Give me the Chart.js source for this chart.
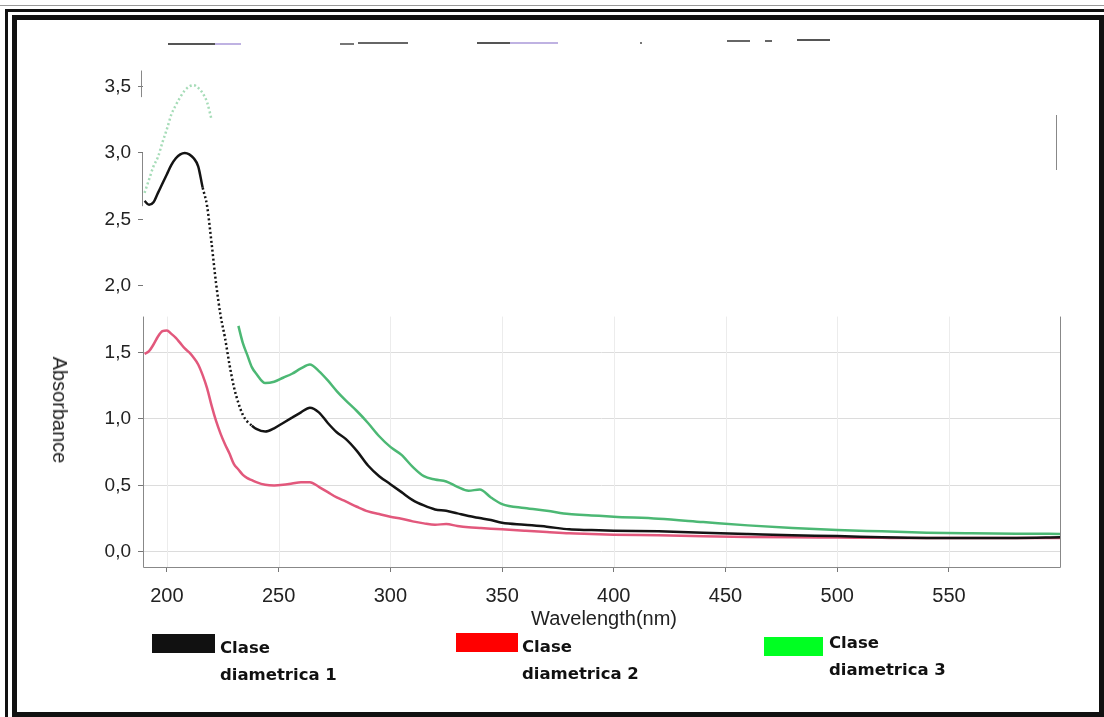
<!DOCTYPE html>
<html>
<head>
<meta charset="utf-8">
<script src="https://cdn.jsdelivr.net/npm/chart.js@4/dist/chart.umd.min.js"></script>
<style>
  html, body { margin: 0; padding: 0; background: #fff; }
  body { width: 1104px; height: 717px; position: relative; overflow: hidden; font-family: "Liberation Sans", Arial, sans-serif; }
  #wrap { position: absolute; left: 0; top: 0; width: 1104px; height: 717px; }
  .frameOuter { position: absolute; left: 5px; top: 9px; width: 1200px; height: 800px; border-left: 3px solid #111; border-top: 3px solid #111; }
  .frameInner { position: absolute; left: 12px; top: 15px; right: 0; bottom: 0; border: 5px solid #111; }
  .scanTop { position: absolute; left: 0; top: 5px; width: 1104px; height: 1px; background: #999; }
  .junk { position: absolute; height: 2px; }
  .ytitle { position: absolute; left: 60px; top: 410px; font-size: 20px; line-height: 20px; color: #222; white-space: nowrap; transform: translate(-50%, -50%) rotate(90deg); }
  .xtitle { position: absolute; left: 604px; top: 608px; font-size: 20px; line-height: 20px; color: #222; white-space: nowrap; transform: translateX(-50%); }
  .lgBox { position: absolute; height: 19px; }
  .lgText { position: absolute; font-family: "DejaVu Sans", sans-serif; font-weight: bold; font-size: 16.5px; line-height: 27px; color: #111; }
</style>
</head>
<body>
<div class="scanTop"></div>
<div class="frameOuter"></div>
<div class="frameInner"></div>

<!-- scan leftovers at the top of the page -->
<div class="junk" style="left:168px;top:43px;width:47px;background:#555"></div>
<div class="junk" style="left:215px;top:43px;width:26px;background:#bfb2e2"></div>
<div class="junk" style="left:340px;top:43px;width:14px;background:#777"></div>
<div class="junk" style="left:358px;top:42px;width:50px;background:#666"></div>
<div class="junk" style="left:477px;top:42px;width:33px;background:#555"></div>
<div class="junk" style="left:510px;top:42px;width:48px;background:#bfb2e2"></div>
<div class="junk" style="left:640px;top:42px;width:2px;background:#777"></div>
<div class="junk" style="left:727px;top:40px;width:23px;background:#666"></div>
<div class="junk" style="left:765px;top:40px;width:7px;background:#666"></div>
<div class="junk" style="left:797px;top:39px;width:33px;background:#555"></div>
<div style="position:absolute;left:1056px;top:115px;width:1px;height:55px;background:#888"></div>

<div id="wrap"><canvas id="myChart" width="1104" height="717"></canvas></div>

<div class="ytitle">Absorbance</div>
<div class="xtitle">Wavelength(nm)</div>

<div class="lgBox" style="left:152px;top:634px;width:63px;background:#111"></div>
<div class="lgText" style="left:220px;top:634px">Clase<br>diametrica 1</div>
<div class="lgBox" style="left:456px;top:633px;width:62px;background:#ff0000"></div>
<div class="lgText" style="left:522px;top:633px">Clase<br>diametrica 2</div>
<div class="lgBox" style="left:764px;top:637px;width:59px;background:#00ff22"></div>
<div class="lgText" style="left:829px;top:629px">Clase<br>diametrica 3</div>

<script>
const wavelengths = [190, 192, 194, 196, 198, 200, 202, 204, 206, 208, 210, 212, 214, 216, 218, 220,
  222, 224, 226, 228, 230, 232, 234, 236, 238, 240, 244, 248, 252, 256, 260, 264, 268, 272, 276, 280,
  285, 290, 295, 300, 305, 310, 315, 320, 325, 330, 335, 340, 345, 350, 360, 370, 380, 390, 400,
  420, 440, 460, 480, 500, 520, 540, 560, 580, 600];

const clase1 = [2.64, 2.61, 2.63, 2.70, 2.77, 2.84, 2.91, 2.96, 2.99, 3.00, 2.99, 2.96, 2.90, 2.74, 2.60, 2.32,
  2.02, 1.78, 1.61, 1.41, 1.24, 1.12, 1.03, 0.98, 0.95, 0.925, 0.905, 0.93, 0.97, 1.01, 1.05, 1.085, 1.05, 0.97, 0.90, 0.85,
  0.76, 0.65, 0.57, 0.51, 0.45, 0.39, 0.35, 0.32, 0.31, 0.29, 0.27, 0.255, 0.24, 0.22, 0.205, 0.19, 0.17, 0.165, 0.16,
  0.155, 0.145, 0.135, 0.125, 0.12, 0.11, 0.105, 0.105, 0.105, 0.11];

const clase2 = [1.49, 1.51, 1.56, 1.62, 1.66, 1.665, 1.64, 1.61, 1.57, 1.53, 1.50, 1.46, 1.41, 1.33, 1.23, 1.10,
  0.985, 0.89, 0.81, 0.74, 0.66, 0.62, 0.58, 0.555, 0.54, 0.525, 0.505, 0.50, 0.505, 0.515, 0.525, 0.525, 0.49, 0.45, 0.41, 0.38,
  0.34, 0.305, 0.285, 0.265, 0.25, 0.23, 0.215, 0.205, 0.21, 0.195, 0.185, 0.18, 0.175, 0.17, 0.16, 0.15, 0.14, 0.135, 0.13,
  0.125, 0.118, 0.113, 0.11, 0.108, 0.106, 0.105, 0.105, 0.105, 0.106];

// null where the scan lost the green trace
const clase3 = [2.70, 2.80, 2.90, 2.97, 3.08, 3.18, 3.29, 3.36, 3.42, 3.47, 3.50, 3.51, 3.49, 3.45, 3.38, 3.25,
  null, null, null, null, null, 1.70, 1.57, 1.48, 1.39, 1.34, 1.27, 1.28, 1.31, 1.34, 1.38, 1.41, 1.36, 1.29, 1.21, 1.14,
  1.06, 0.97, 0.87, 0.79, 0.73, 0.64, 0.57, 0.545, 0.53, 0.49, 0.46, 0.47, 0.41, 0.36, 0.33, 0.31, 0.285, 0.275, 0.265,
  0.25, 0.225, 0.20, 0.18, 0.165, 0.155, 0.145, 0.14, 0.137, 0.136];

const xTicks = [200, 250, 300, 350, 400, 450, 500, 550];
const yTicks = [0, 0.5, 1, 1.5, 2, 2.5, 3, 3.5];

const X_MIN = 189.3, X_MAX = 599.7;
const Y_MIN = -0.113, Y_MAX = 3.624;

function toPoints(values) {
    return wavelengths.map((w, i) => ({ x: w, y: values[i] }));
}

// faint / dotted parts of the scanned traces
function dottedBetween(lo, hi) {
    return ctx => (ctx.p0.parsed.x >= lo && ctx.p1.parsed.x <= hi) ? [2, 2.5] : undefined;
}

const frameLines = {
    id: 'frameLines',
    beforeDatasetsDraw(chart) {
        const { ctx, chartArea: a, scales: { x, y } } = chart;
        ctx.save();
        ctx.lineWidth = 1;
        // faint vertical grid, only in the lower part that survived the scan
        ctx.strokeStyle = '#ececec';
        xTicks.forEach(v => {
            const px = Math.round(x.getPixelForValue(v)) + 0.5;
            ctx.beginPath();
            ctx.moveTo(px, y.getPixelForValue(1.77));
            ctx.lineTo(px, a.bottom);
            ctx.stroke();
        });
        ctx.strokeStyle = '#888';
        const seg = (x0, y0, x1, y1) => {
            ctx.beginPath(); ctx.moveTo(x0, y0); ctx.lineTo(x1, y1); ctx.stroke();
        };
        const l = Math.round(a.left) + 0.5, r = Math.round(a.right) + 0.5, b = Math.round(a.bottom) + 0.5;
        seg(l, b, r, b);
        seg(l, y.getPixelForValue(1.77), l, b);
        seg(l - 2, y.getPixelForValue(3.62), l - 2, y.getPixelForValue(3.42));
        seg(l - 1, y.getPixelForValue(3.0), l - 1, y.getPixelForValue(2.6));
        seg(r, y.getPixelForValue(1.77), r, b);
        ctx.restore();
    }
};

const config = {
    type: 'line',
    data: {
        datasets: [
            {
                label: 'Clase diametrica 3',
                data: toPoints(clase3),
                borderColor: '#4cb874',
                borderWidth: 2.5,
                pointRadius: 0,
                cubicInterpolationMode: 'monotone',
                segment: {
                    borderColor: ctx => ctx.p1.parsed.x <= 220 ? '#a6dcb8' : undefined,
                    borderDash: dottedBetween(190, 220)
                }
            },
            {
                label: 'Clase diametrica 1',
                data: toPoints(clase1),
                borderColor: '#141414',
                borderWidth: 2.5,
                pointRadius: 0,
                cubicInterpolationMode: 'monotone',
                segment: { borderDash: dottedBetween(216, 238) }
            },
            {
                label: 'Clase diametrica 2',
                data: toPoints(clase2),
                borderColor: '#e2587c',
                borderWidth: 2.5,
                pointRadius: 0,
                cubicInterpolationMode: 'monotone'
            }
        ]
    },
    options: {
        responsive: false,
        devicePixelRatio: 1,
        animation: false,
        layout: { padding: { left: 0, top: 70, right: 44, bottom: 0 } },
        plugins: { legend: { display: false }, tooltip: { enabled: false } },
        scales: {
            x: {
                type: 'linear',
                min: X_MIN,
                max: X_MAX,
                afterBuildTicks: s => { s.ticks = xTicks.map(v => ({ value: v })); },
                afterFit: s => { s.height = 150; },
                border: { display: false },
                grid: { drawOnChartArea: false, tickLength: 5, tickColor: '#777' },
                ticks: {
                    padding: 12,
                    maxRotation: 0,
                    color: '#222',
                    font: { family: 'Liberation Sans, Arial, sans-serif', size: 20 },
                    callback: v => String(v)
                }
            },
            y: {
                min: Y_MIN,
                max: Y_MAX,
                afterBuildTicks: s => { s.ticks = yTicks.map(v => ({ value: v })); },
                afterFit: s => { s.width = 143; },
                border: { display: false },
                grid: {
                    tickLength: 5,
                    tickColor: '#777',
                    color: ctx => ctx.tick && ctx.tick.value <= 1.5 ? '#dcdcdc' : 'rgba(0,0,0,0)'
                },
                ticks: {
                    padding: 7,
                    color: '#222',
                    font: { family: 'Liberation Sans, Arial, sans-serif', size: 19 },
                    callback: v => v.toFixed(1).replace('.', ',')
                }
            }
        }
    },
    plugins: [frameLines]
};

const myChart = new Chart(document.getElementById('myChart'), config);
</script>
</body>
</html>
